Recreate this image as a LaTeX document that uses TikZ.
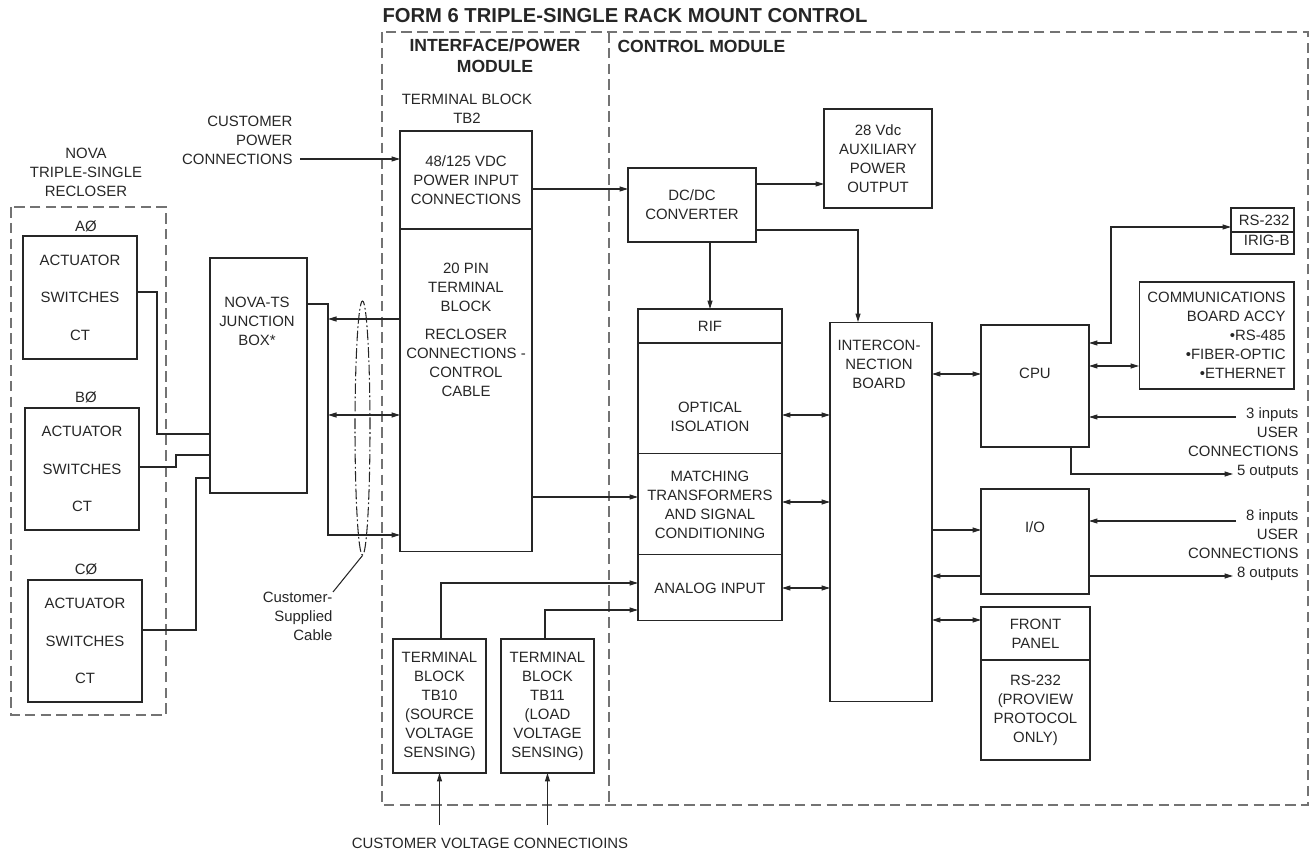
\documentclass[tikz,border=0pt]{standalone}
\usepackage{fontspec}
\setmainfont{Liberation Sans}
\usetikzlibrary{positioning,arrows.meta,shapes.geometric}

\begin{document}
\begin{tikzpicture}[x=0.02cm,y=-0.02cm,->,>={Triangle[length=1.7mm,width=1mm]},
    color=black!85, line width=0.6pt,
    every node/.style={font=\fontsize{8.5}{10.8}\selectfont},
    blk/.style={draw, inner sep=0, outer sep=0, align=center},
    txt/.style={inner sep=0, align=center},
    hd/.style={inner sep=0, align=center, font=\fontsize{10}{11.9}\selectfont\bfseries},
    dsh/.style={draw=black!55, dash pattern=on 6pt off 3pt}]
  \useasboundingbox (0,0) rectangle (1312,854);

  \node (ttl) [anchor=west, inner sep=0, font=\fontsize{11.5}{13}\selectfont\bfseries] at (382,16) {FORM 6 TRIPLE-SINGLE RACK MOUNT CONTROL};
  \draw[dsh,-] (382,32) rectangle (1308,805);
  \draw[dsh,-] (609,32) -- (609,805);
  \node (ipm) [hd] at (495,56) {INTERFACE/POWER\\MODULE};
  \node (cm) [hd, anchor=west] at (617,46) {CONTROL MODULE};

  % recloser side
  \node (nova) [txt] at (86,172) {NOVA\\TRIPLE-SINGLE\\RECLOSER};
  \draw[dsh,-] (11,207) rectangle (166,715);
  \node (pa) [txt] at (86,226) {AØ};
  \node (a) [blk, minimum width=2.28cm, minimum height=2.46cm] at (80,297.5) {ACTUATOR\\[10.5pt]SWITCHES\\[10.5pt]CT};
  \node (pb) [txt] at (86,397) {BØ};
  \node (b) [blk, minimum width=2.28cm, minimum height=2.44cm] at (82,469) {ACTUATOR\\[10.5pt]SWITCHES\\[10.5pt]CT};
  \node (pc) [txt] at (86,569) {CØ};
  \node (c) [blk, minimum width=2.28cm, minimum height=2.44cm] at (85,641) {ACTUATOR\\[10.5pt]SWITCHES\\[10.5pt]CT};

  \node (jb) [blk, minimum width=1.94cm, minimum height=4.7cm] at (258.5,375.5) {};
  \node (jbt) [txt] at (257,321) {NOVA-TS\\JUNCTION\\BOX*};
  \draw[-] (a.east |- 0,292) -| (157,434) -- (jb.west |- 0,434);
  \draw[-] (b.east |- 0,467) -| (176,455) -- (jb.west |- 0,455);
  \draw[-] (c.east |- 0,630) -| (196,478) -- (jb.west |- 0,478);

  % interface / power module
  \node (tb2l) [txt] at (467,109) {TERMINAL BLOCK\\TB2};
  \node (tb2p) [blk, minimum width=2.64cm, minimum height=1.96cm] at (466,180) {48/125 VDC\\POWER INPUT\\CONNECTIONS};
  \node (tb2r) [blk, minimum width=2.64cm, minimum height=6.46cm, below=0pt of tb2p] {};
  \node (tb2t) [txt] at (466,330) {20 PIN\\TERMINAL\\BLOCK\\[5pt]RECLOSER\\CONNECTIONS -\\CONTROL\\CABLE};

  \coordinate (bus) at (328,304);
  \draw (jb.east |- bus) -- (bus) -- (bus |- 0,535) -- (tb2r.west |- 0,535);
  \draw (tb2r.west |- 0,319) -- (bus |- 0,319);
  \draw[<->] (bus |- 0,415) -- (tb2r.west |- 0,415);

  \node (cable) [draw, ellipse, minimum width=0.3cm, minimum height=5.08cm, inner sep=0,
    dash pattern=on 6pt off 1.5pt on 1pt off 1.5pt] at (362.5,428) {};
  \node (cst) [txt, align=right, anchor=north east] at (333,592) {Customer-\\Supplied\\Cable};
  \draw[-] (cable.south) -- (cst.north east);

  \node (cpw) [txt, align=right, anchor=east] at (293,140) {CUSTOMER\\POWER\\CONNECTIONS};
  \coordinate (cpin) at (300,159);
  \draw (cpin) -- (tb2p.west |- cpin);

  \node (tb10) [blk, minimum width=1.86cm, minimum height=2.68cm] at (439.5,706) {TERMINAL\\BLOCK\\TB10\\(SOURCE\\VOLTAGE\\SENSING)};
  \node (tb11) [blk, minimum width=1.86cm, minimum height=2.68cm, right=0.3cm of tb10] {TERMINAL\\BLOCK\\TB11\\(LOAD\\VOLTAGE\\SENSING)};
  \node (cvc) [txt] at (490,843) {CUSTOMER VOLTAGE CONNECTIOINS};
  \draw (tb10.south |- 0,825) -- (tb10.south);
  \draw (tb11.south |- 0,825) -- (tb11.south);

  % control module
  \node (dc) [blk, minimum width=2.56cm, minimum height=1.48cm] at (692,205) {DC/DC\\CONVERTER};
  \draw (tb2p.east |- 0,189) -- (dc.west |- 0,189);
  \node (aux) [blk, minimum width=2.16cm, minimum height=1.98cm] at (878,158.5) {28 Vdc\\AUXILIARY\\POWER\\OUTPUT};
  \draw (dc.east |- 0,184) -- (aux.west |- 0,184);

  \node (rif) [blk, minimum width=2.88cm, minimum height=0.68cm] at (710,326) {RIF};
  \node (opt) [blk, minimum width=2.88cm, minimum height=2.22cm, below=0pt of rif] {};
  \node (optt) [txt] at (710,417) {OPTICAL\\ISOLATION};
  \node (mt) [blk, minimum width=2.88cm, minimum height=2.02cm, below=0pt of opt] {MATCHING\\TRANSFORMERS\\AND SIGNAL\\CONDITIONING};
  \node (ai) [blk, minimum width=2.88cm, minimum height=1.32cm, below=0pt of mt] {ANALOG INPUT};
  \draw (dc.south -| rif.north) -- (rif.north);
  \draw (tb2r.east |- 0,497) -- (mt.west |- 0,497);
  \draw (tb10.north -| 441,0) |- (ai.west |- 0,583);
  \draw (tb11.north -| 545,0) |- (ai.west |- 0,610);

  \node (inter) [blk, minimum width=2.04cm, minimum height=7.6cm] at (881,512) {};
  \node (intt) [txt] at (879,364) {INTERCON-\\NECTION\\BOARD};
  \draw (dc.east |- 0,230) -| (inter.north -| 858,0);
  \foreach \y in {415,502,588}
    \draw[<->] (opt.east |- 0,\y) -- (inter.west |- 0,\y);

  \node (cpu) [blk, minimum width=2.16cm, minimum height=2.44cm] at (1035,386) {};
  \node (cput) [txt] at (1035,373) {CPU};
  \draw[<->] (inter.east |- 0,374) -- (cpu.west |- 0,374);

  \node (rs) [blk, minimum width=1.26cm, minimum height=0.48cm] at (1262.5,220) {};
  \node (irig) [blk, minimum width=1.26cm, minimum height=0.44cm, below=0pt of rs] {};
  \node (rst) [txt, anchor=east] at (1290,220) {RS-232};
  \node (irigt) [txt, anchor=east] at (1290,240) {IRIG-B};
  \draw[<->] (cpu.east |- 0,343) -| (1111,227) -- (rs.west |- 0,227);

  \node (comm) [blk, align=right, minimum width=3.1cm, minimum height=2.14cm] at (1216.5,335.5) {COMMUNICATIONS\\BOARD ACCY\\•RS-485\\•FIBER-OPTIC\\•ETHERNET};
  \draw[<->] (cpu.east |- 0,366) -- (comm.west |- 0,366);

  \node (u1) [txt, align=right, anchor=east] at (1299,443) {3 inputs\\USER\\CONNECTIONS\\5 outputs};
  \coordinate (i3) at (1236,417);
  \coordinate (o5) at (1233,474);
  \draw (i3) -- (cpu.east |- i3);
  \draw (cpu.south -| 1071,0) |- (o5);

  \node (io) [blk, minimum width=2.16cm, minimum height=2.1cm] at (1035,541.5) {};
  \node (iot) [txt] at (1035,527) {I/O};
  \draw (inter.east |- 0,530) -- (io.west |- 0,530);
  \draw (io.west |- 0,576) -- (inter.east |- 0,576);

  \node (u2) [txt, align=right, anchor=east] at (1299,545) {8 inputs\\USER\\CONNECTIONS\\8 outputs};
  \coordinate (i8) at (1236,521);
  \coordinate (o8) at (1233,576);
  \draw (i8) -- (io.east |- i8);
  \draw (io.east |- o8) -- (o8);

  \node (fp) [blk, minimum width=2.18cm, minimum height=1.06cm] at (1035.5,633.5) {FRONT\\PANEL};
  \node (rsp) [blk, minimum width=2.18cm, minimum height=2cm, below=0pt of fp] {RS-232\\(PROVIEW\\PROTOCOL\\ONLY)};
  \draw[<->] (inter.east |- 0,620) -- (fp.west |- 0,620);
\end{tikzpicture}
\end{document}
